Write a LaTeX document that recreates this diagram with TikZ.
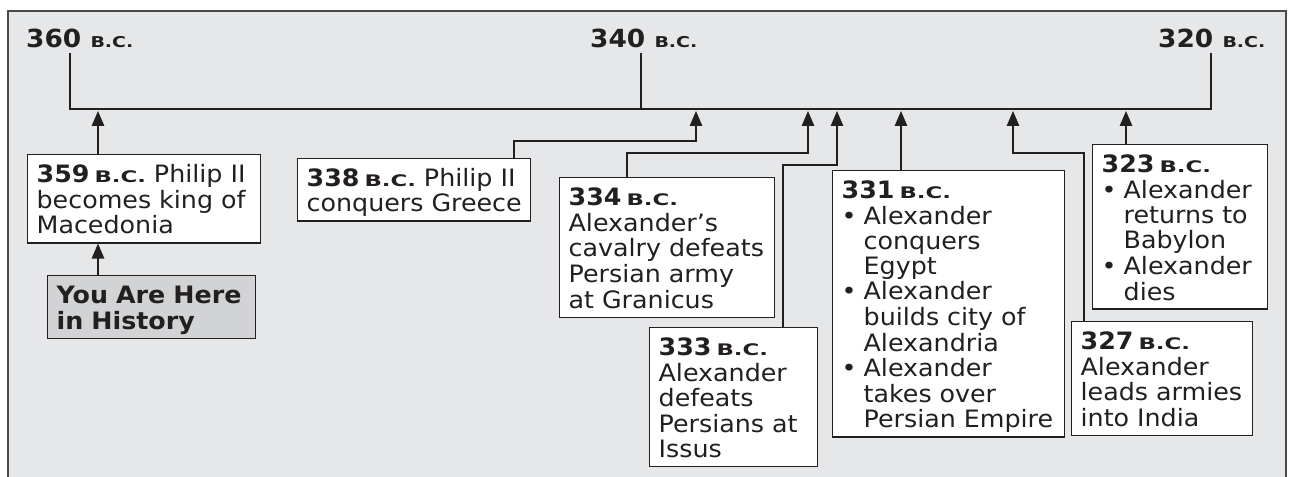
\documentclass[tikz,border=0pt]{standalone}
\usepackage{fontspec}
\setmainfont{DejaVu Sans}[FakeStretch=1.06]
\usetikzlibrary{arrows.meta}

\definecolor{panel}{HTML}{E6E7E8}
\definecolor{herefill}{HTML}{D2D3D5}
\definecolor{ink}{HTML}{231F20}
\definecolor{frameline}{HTML}{4A4A4A}

% "B.C." set as wide bold small capitals
\newcommand\bcmark[2]{\scalebox{#2}[1]{\fontsize{#1}{#1}\selectfont\bfseries B.C.}}
\newcommand\yr[1]{\textbf{#1}\hspace{5bp}\bcmark{16}{1.35}}
% bullet with hanging indent
\newlength\bulw \setlength\bulw{22bp}
\newcommand\bul{\makebox[\bulw][l]{\textbullet}}
\newcommand\ind{\hspace*{\bulw}}
% event text: fixed lines, 28bp above the first baseline, 9bp below the last
\newcommand\evlines[1]{\begin{tabular}[t]{@{}l@{}}\rule{0pt}{28bp}#1\rule[-9bp]{0pt}{9bp}\end{tabular}}

\begin{document}
\begin{tikzpicture}[x=1bp,y=-1bp,
  conn/.style={draw=ink, line width=1.3bp},
  arr/.style={conn, -{Triangle[length=15bp,width=12.5bp]}},
  yearlab/.style={inner xsep=0pt, inner ysep=0pt, text=ink,
    font=\fontsize{25}{25}\selectfont\bfseries},
  event/.style={draw=ink, line width=1.3bp, fill=white, anchor=north west,
    inner xsep=9bp, inner ysep=0pt, align=left, text=ink,
    font=\fontsize{24}{25}\selectfont},
  herebox/.style={event, fill=herefill, font=\fontsize{24}{25}\selectfont\bfseries}
]
\useasboundingbox (0,0) rectangle (1290,477);

% panel
\fill[panel] (8,11) rectangle (1286,477);
\draw[frameline, line width=1.6bp] (8,477) -- (8,11) -- (1286,11) -- (1286,477);

% scale labels
\node[yearlab, anchor=base west] (lab360) at (26,48) {360 \bcmark{15}{1.2}};
\node[yearlab, anchor=base west] (lab340) at (590,48) {340 \bcmark{15}{1.2}};
\node[yearlab, anchor=base west] (lab320) at (1158,48) {320 \bcmark{15}{1.2}};

% time axis with its ticks
\coordinate (k360) at (70,109);
\coordinate (k340) at (641,109);
\coordinate (k320) at (1211,109);
\draw[conn, shorten <=4bp, shorten >=4bp]
  (lab360.south -| k360) -- (k360) -- (k320) -- (lab320.south -| k320);
\draw[conn, shorten <=4bp] (lab340.south -| k340) -- (k340);

% events
\node[event, text width=215bp] (b359) at (27,154)
  {\evlines{\yr{359} Philip II\\becomes king of\\Macedonia}};
\node[herebox, text width=190bp] (here) at (47,275)
  {\evlines{You Are Here\\in History}};
\node[event, text width=215bp] (b338) at (297,158)
  {\evlines{\yr{338} Philip II\\conquers Greece}};
\node[event, text width=197bp] (b334) at (559,177)
  {\evlines{\yr{334}\\Alexander’s\\cavalry defeats\\Persian army\\at Granicus}};
\node[event, text width=150bp] (b333) at (649,327)
  {\evlines{\yr{333}\\Alexander\\defeats\\Persians at\\Issus}};
\node[event, text width=214bp] (b331) at (832,170)
  {\evlines{\yr{331}\\ \bul Alexander\\ \ind conquers\\ \ind Egypt\\
   \bul Alexander\\ \ind builds city of\\ \ind Alexandria\\
   \bul Alexander\\ \ind takes over\\ \ind Persian Empire}};
\node[event, text width=163bp] (b327) at (1071,321)
  {\evlines{\yr{327}\\Alexander\\leads armies\\into India}};
\node[event, text width=157bp] (b323) at (1092,144)
  {\evlines{\yr{323}\\ \bul Alexander\\ \ind returns to\\ \ind Babylon\\
   \bul Alexander\\ \ind dies}};

% arrow ends on the axis and elbow points
\coordinate (e359) at (98,111);
\coordinate (e338) at (696,111);
\coordinate (e334) at (808,111);
\coordinate (e333) at (837,111);
\coordinate (e331) at (901,111);
\coordinate (e327) at (1013,111);
\coordinate (e323) at (1126,111);
\coordinate (j338) at (514,141);
\coordinate (j334) at (627,153);
\coordinate (j333) at (783,165);
\coordinate (j327) at (1084,153);

% connectors
\draw[arr] (here.north -| e359) -- (b359.south -| e359);
\draw[arr] (b359.north -| e359) -- (e359);
\draw[arr] (b338.north -| j338) -- (j338) -| (e338);
\draw[arr] (b334.north -| j334) -- (j334) -| (e334);
\draw[arr] (b333.north -| j333) -- (j333) -| (e333);
\draw[arr] (b331.north -| e331) -- (e331);
\draw[arr] (b327.north -| j327) -- (j327) -| (e327);
\draw[arr] (b323.north -| e323) -- (e323);
\end{tikzpicture}
\end{document}
